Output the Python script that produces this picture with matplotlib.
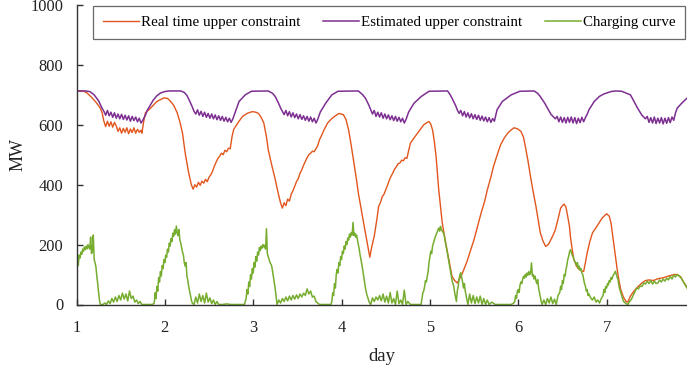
"""
Upper constraints and charging curve over one week
"""

import numpy as np
import matplotlib
matplotlib.use('Agg')
import matplotlib.pyplot as plt

# ---- data (day, MW) ----
est_day = [1.00, 1.10, 1.15, 1.20, 1.25, 1.29, 1.31,
           1.33, 1.35, 1.37, 1.39, 1.41, 1.43, 1.45, 1.47, 1.49, 1.51, 1.53, 1.55, 1.57, 1.59,
           1.61, 1.63, 1.65, 1.67, 1.69, 1.71, 1.73, 1.75,
           1.78, 1.80, 1.84, 1.87, 1.91, 1.95, 2.00, 2.05, 2.18, 2.22, 2.25, 2.28, 2.31, 2.33,
           2.35, 2.37, 2.39, 2.41, 2.43, 2.45, 2.47, 2.49, 2.51, 2.53, 2.55, 2.57, 2.59, 2.61,
           2.63, 2.65, 2.67, 2.69, 2.71, 2.73, 2.75, 2.77,
           2.80, 2.84, 2.91, 2.98, 3.17, 3.22, 3.25, 3.29, 3.31, 3.33,
           3.35, 3.37, 3.39, 3.41, 3.43, 3.45, 3.47, 3.49, 3.51, 3.53, 3.55, 3.57, 3.59, 3.61,
           3.63, 3.65, 3.67, 3.69, 3.71, 3.73,
           3.76, 3.82, 3.89, 3.96, 4.19, 4.24, 4.27, 4.31, 4.33,
           4.35, 4.37, 4.39, 4.41, 4.43, 4.45, 4.47, 4.49, 4.51, 4.53, 4.55, 4.57, 4.59, 4.61,
           4.63, 4.65, 4.67, 4.69, 4.71, 4.73,
           4.76, 4.82, 4.90, 4.99, 5.20, 5.23, 5.25, 5.29, 5.31,
           5.33, 5.35, 5.37, 5.39, 5.41, 5.43, 5.45, 5.47, 5.49, 5.51, 5.53, 5.55, 5.57, 5.59,
           5.61, 5.63, 5.65, 5.67, 5.69, 5.71, 5.73,
           5.76, 5.82, 5.92, 6.02, 6.18, 6.22, 6.25, 6.30, 6.33, 6.37, 6.42,
           6.44, 6.46, 6.48, 6.50, 6.52, 6.54, 6.56, 6.58, 6.60, 6.62, 6.64, 6.66, 6.68, 6.70,
           6.72, 6.74, 6.76,
           6.78, 6.80, 6.86, 6.92, 6.97, 7.05, 7.10, 7.17, 7.22, 7.27, 7.31, 7.35, 7.40, 7.44,
           7.46, 7.48, 7.50, 7.52, 7.54, 7.56, 7.58, 7.60, 7.62, 7.64, 7.66, 7.68, 7.70, 7.72,
           7.74, 7.76,
           7.78, 7.80, 7.85, 7.91, 7.93]
est_mw = [713, 713, 711, 700, 680, 655, 645,
          632, 648, 630, 642, 625, 640, 622, 636, 620, 635, 618, 632, 616, 630,
          612, 628, 614, 626, 610, 622, 606, 615,
          632, 648, 668, 683, 697, 706, 711, 713, 713, 708, 698, 680, 660, 645,
          636, 650, 632, 645, 628, 642, 625, 638, 622, 636, 620, 633, 617, 630,
          615, 628, 612, 625, 610, 622, 608, 620,
          645, 678, 700, 712, 713, 705, 694, 670, 656, 645,
          634, 648, 630, 644, 626, 640, 624, 636, 620, 634, 618, 630, 615, 628,
          612, 626, 610, 622, 606, 618,
          643, 672, 700, 712, 713, 700, 689, 665, 650,
          636, 648, 628, 642, 626, 640, 622, 636, 620, 633, 617, 630, 614, 628,
          612, 625, 610, 622, 606, 618,
          643, 672, 694, 712, 713, 700, 689, 665, 650,
          638, 648, 630, 644, 626, 640, 623, 637, 620, 634, 618, 632, 615, 629,
          613, 626, 610, 624, 608, 621, 612,
          650, 678, 700, 712, 713, 705, 694, 672, 656, 635, 620,
          628, 610, 626, 608, 624, 606, 625, 608, 626, 606, 624, 604, 622, 607,
          625, 610, 624,
          635, 650, 678, 695, 703, 711, 713, 712, 706, 700, 678, 656, 632, 620,
          628, 608, 624, 606, 626, 604, 622, 606, 624, 603, 622, 605, 624, 607,
          626, 615,
          640, 656, 672, 689, 692]

real_day = [1.00, 1.08, 1.12, 1.17, 1.23, 1.27, 1.29, 1.31, 1.33,
            1.35, 1.37, 1.39, 1.41, 1.43, 1.45, 1.47, 1.49, 1.51, 1.53, 1.55, 1.57, 1.59,
            1.61, 1.63, 1.65, 1.67, 1.69, 1.71, 1.73, 1.74,
            1.76, 1.78, 1.84, 1.91, 1.99, 2.03, 2.06, 2.10, 2.14, 2.17, 2.20, 2.23, 2.27,
            2.30, 2.32,
            2.34, 2.36, 2.38, 2.40, 2.42, 2.44, 2.46, 2.48, 2.50, 2.52, 2.54, 2.56, 2.58,
            2.60, 2.62, 2.64, 2.66, 2.68, 2.70, 2.72, 2.74,
            2.76, 2.78, 2.80, 2.84, 2.88, 2.93, 2.99, 3.03, 3.06, 3.09, 3.12, 3.15, 3.17,
            3.21, 3.25, 3.28, 3.31, 3.33,
            3.35, 3.37, 3.39, 3.41, 3.43, 3.45, 3.47, 3.49, 3.51, 3.53, 3.55, 3.57, 3.59,
            3.61, 3.63, 3.65, 3.67, 3.69, 3.71, 3.73, 3.75, 3.77,
            3.80, 3.84, 3.88, 3.92, 3.97, 4.02, 4.05, 4.08, 4.11, 4.14, 4.17, 4.19, 4.23,
            4.27, 4.30, 4.32,
            4.34, 4.37, 4.40, 4.42, 4.44, 4.46, 4.48, 4.50, 4.52, 4.54, 4.56, 4.58, 4.60,
            4.62, 4.64, 4.66, 4.68, 4.70, 4.72, 4.74, 4.76, 4.78,
            4.82, 4.86, 4.90, 4.93, 4.97, 4.99, 5.01, 5.03, 5.05, 5.07, 5.10, 5.14, 5.17,
            5.20, 5.23, 5.25, 5.28, 5.31, 5.34, 5.37, 5.42, 5.46, 5.50, 5.54, 5.58, 5.62,
            5.65, 5.69, 5.72, 5.76, 5.80, 5.84, 5.88, 5.92, 5.95, 5.99, 6.03, 6.06, 6.08,
            6.11, 6.14, 6.17, 6.20, 6.23, 6.25, 6.28, 6.31, 6.34, 6.37, 6.40, 6.42, 6.45,
            6.48, 6.50, 6.52, 6.54, 6.56, 6.58, 6.59, 6.61, 6.63, 6.66, 6.69, 6.72, 6.74,
            6.76, 6.78, 6.81, 6.84, 6.89, 6.95, 7.00, 7.03, 7.05, 7.08, 7.10, 7.12, 7.14,
            7.16, 7.19, 7.22, 7.24, 7.27, 7.31, 7.35, 7.40, 7.44, 7.48, 7.53, 7.58, 7.65,
            7.70, 7.76, 7.80, 7.84, 7.87, 7.91]
real_mw = [713, 712, 706, 692, 672, 655, 640, 612, 594,
           612, 595, 610, 592, 608, 596, 578, 590, 572, 588, 575, 590, 570,
           586, 574, 590, 572, 585, 575, 582, 572,
           610, 640, 656, 678, 690, 688, 680, 665, 640, 610, 572, 506, 439,
           400, 385,
           400, 392, 408, 398, 412, 405, 418, 410, 425, 433, 445, 462, 475,
           488, 495, 505, 500, 515, 510, 522, 520,
           560, 585, 594, 612, 628, 638, 644, 642, 638, 625, 606, 560, 517,
           465, 417, 375, 339, 322,
           340, 330, 352, 345, 368, 380, 395, 410, 420, 438, 450, 465, 478,
           490, 500, 505, 512, 510, 520, 530, 550, 562,
           582, 605, 618, 628, 638, 634, 618, 583, 530, 472, 415, 372, 305,
           239, 190, 158,
           190, 228, 285, 328, 340, 360, 368, 383, 398, 415, 428, 439, 452,
           460, 470, 472, 482, 480, 490, 488, 515, 539,
           556, 572, 588, 600, 608, 611, 602, 583, 545, 494, 383, 272, 220,
           172, 125, 94, 80, 72, 88, 106, 144, 180, 217, 262, 306, 345,
           383, 425, 461, 498, 533, 555, 572, 583, 590, 587, 578, 558, 528,
           480, 425, 375, 328, 275, 239, 212, 194, 200, 217, 235, 250, 285,
           322, 330, 335, 325, 294, 260, 228, 185, 150, 128, 117, 112, 110,
           140, 172, 210, 239, 261, 289, 303, 295, 272, 206, 160, 117, 80,
           50, 25, 10, 8, 28, 45, 58, 72, 80, 82, 80, 86, 90,
           95, 100, 100, 92, 75, 58]

chg_day = [1.00, 1.01, 1.02, 1.03, 1.04, 1.05, 1.06, 1.07, 1.08, 1.09, 1.10, 1.11, 1.12, 1.13,
           1.14, 1.15, 1.16, 1.17, 1.18, 1.19, 1.20, 1.21, 1.22, 1.23, 1.24, 1.25, 1.26, 1.27,
           1.30, 1.32, 1.34, 1.36, 1.38, 1.40, 1.42, 1.44, 1.46, 1.48, 1.50, 1.52, 1.54, 1.56,
           1.58, 1.60, 1.62, 1.64, 1.66, 1.68, 1.70, 1.72, 1.74, 1.78, 1.82, 1.86,
           1.88, 1.89, 1.90, 1.91, 1.92, 1.93, 1.94, 1.95, 1.96, 1.97, 1.98, 1.99, 2.00, 2.01,
           2.02, 2.03, 2.04, 2.05, 2.06, 2.07, 2.08, 2.09, 2.10, 2.11, 2.12, 2.13, 2.14, 2.15,
           2.16, 2.17, 2.18, 2.19, 2.20, 2.21, 2.22, 2.23, 2.24, 2.25, 2.26, 2.27, 2.28, 2.29,
           2.30, 2.31,
           2.33, 2.35, 2.37, 2.39, 2.41, 2.43, 2.45, 2.47, 2.49, 2.51, 2.53, 2.55, 2.57, 2.59,
           2.61, 2.65, 2.70, 2.75, 2.80, 2.85, 2.90,
           2.92, 2.93, 2.94, 2.95, 2.96, 2.97, 2.98, 2.99, 3.00, 3.01, 3.02, 3.03, 3.04, 3.05,
           3.06, 3.07, 3.08, 3.09, 3.10, 3.11, 3.12, 3.13, 3.14, 3.15, 3.16, 3.17, 3.18, 3.19,
           3.20, 3.21, 3.22, 3.23, 3.24, 3.25, 3.26, 3.27,
           3.29, 3.31, 3.33, 3.35, 3.37, 3.39, 3.41, 3.43, 3.45, 3.47, 3.49, 3.51, 3.53, 3.55,
           3.57, 3.59, 3.61, 3.63, 3.65, 3.67, 3.69, 3.71, 3.73, 3.75, 3.80, 3.85, 3.88,
           3.89, 3.90, 3.91, 3.92, 3.93, 3.94, 3.95, 3.96, 3.97, 3.98, 3.99, 4.00, 4.01, 4.02,
           4.03, 4.04, 4.05, 4.06, 4.07, 4.08, 4.09, 4.10, 4.11, 4.12, 4.13, 4.14, 4.15, 4.16,
           4.17, 4.18, 4.19, 4.20, 4.21, 4.22, 4.23, 4.24, 4.25, 4.26, 4.27, 4.28, 4.29, 4.30,
           4.31, 4.32, 4.33,
           4.35, 4.37, 4.39, 4.41, 4.43, 4.45, 4.47, 4.49, 4.51, 4.53, 4.55, 4.57, 4.59, 4.61,
           4.63, 4.65, 4.67, 4.69, 4.71, 4.73, 4.75, 4.78, 4.84, 4.90,
           4.91, 4.92, 4.93, 4.94, 4.95, 4.96, 4.97, 4.98, 4.99, 5.00, 5.01, 5.02, 5.03, 5.04,
           5.05, 5.06, 5.07, 5.08, 5.09, 5.10, 5.11, 5.12, 5.13, 5.14, 5.15, 5.16, 5.17, 5.18,
           5.19, 5.20, 5.21, 5.22, 5.23, 5.24, 5.25, 5.26, 5.27, 5.28, 5.29, 5.30, 5.31, 5.32,
           5.33, 5.34, 5.35, 5.36, 5.37, 5.38, 5.39, 5.40, 5.41, 5.42, 5.43,
           5.45, 5.47, 5.49, 5.51, 5.53, 5.55, 5.57, 5.59, 5.61, 5.63, 5.65, 5.67, 5.70, 5.74,
           5.80, 5.86, 5.92, 5.95,
           5.96, 5.97, 5.98, 5.99, 6.00, 6.01, 6.02, 6.03, 6.04, 6.05, 6.06, 6.07, 6.08, 6.09,
           6.10, 6.11, 6.12, 6.13, 6.14, 6.15, 6.16, 6.17, 6.18, 6.19, 6.20, 6.21, 6.22, 6.23,
           6.24, 6.25, 6.26, 6.27,
           6.29, 6.31, 6.33, 6.35, 6.37, 6.39, 6.41, 6.43, 6.45, 6.47,
           6.48, 6.49, 6.50, 6.51, 6.52, 6.53, 6.54, 6.55, 6.56, 6.57, 6.58, 6.59, 6.60, 6.61,
           6.62, 6.63, 6.64, 6.65, 6.66, 6.67, 6.68, 6.69, 6.70, 6.71, 6.72, 6.73, 6.74, 6.75,
           6.76, 6.77, 6.78, 6.79, 6.80, 6.82, 6.84, 6.86, 6.88, 6.90, 6.92, 6.94, 6.96,
           6.97, 6.98, 6.99, 7.00, 7.01, 7.02, 7.03, 7.04, 7.05, 7.06, 7.07, 7.08, 7.09, 7.10,
           7.11, 7.12, 7.13, 7.14, 7.15, 7.16, 7.17, 7.18, 7.19, 7.20, 7.22, 7.24,
           7.26, 7.28, 7.30, 7.32, 7.34, 7.36, 7.38, 7.40, 7.42, 7.44, 7.46, 7.48, 7.50, 7.52,
           7.54, 7.56, 7.58, 7.60, 7.62, 7.64, 7.66, 7.68, 7.70, 7.72, 7.74, 7.76, 7.78, 7.80,
           7.82, 7.84, 7.86, 7.88, 7.90, 7.92]
chg_mw = [110, 150, 130, 165, 155, 175, 168, 185, 178, 192, 183, 195, 186, 200,
          190, 185, 225, 170, 180, 232, 150, 140, 125, 95, 70, 40, 15, 0,
          0, 5, 0, 12, 3, 20, 8, 25, 10, 30, 15, 38, 18, 35,
          12, 45, 20, 28, 8, 15, 3, 10, 0, 0, 0, 0,
          5, 39, 20, 60, 45, 90, 75, 110, 95, 130, 120, 150, 140, 165,
          158, 185, 175, 205, 195, 220, 210, 238, 228, 250, 235, 262, 240, 230,
          250, 215, 205, 190, 175, 165, 140, 128, 140, 95, 80, 60, 45, 30,
          15, 5,
          0, 25, 5, 35, 10, 30, 5, 38, 8, 22, 3, 15, 0, 10,
          0, 0, 2, 0, 0, 0, 0,
          20, 50, 35, 75, 60, 100, 85, 120, 105, 140, 125, 160, 145, 175,
          165, 190, 180, 195, 188, 200, 192, 198, 185, 253, 170, 160, 150, 140,
          135, 128, 110, 90, 70, 50, 25, 0,
          15, 5, 20, 10, 25, 12, 28, 15, 30, 18, 32, 20, 35, 25,
          38, 30, 52, 35, 45, 25, 28, 10, 5, 0, 0, 0, 0,
          10, 39, 30, 70, 55, 100, 117, 105, 140, 130, 160, 150, 178, 170,
          195, 185, 210, 200, 222, 215, 235, 225, 240, 232, 274, 230, 238, 225,
          232, 215, 200, 185, 165, 150, 133, 115, 95, 75, 56, 40, 30, 20,
          10, 5, 0,
          22, 10, 25, 15, 30, 12, 35, 8, 28, 5, 40, 5, 20, 0,
          45, 3, 15, 0, 48, 0, 10, 0, 0, 0,
          20, 39, 45, 60, 80, 75, 94, 110, 140, 160, 178, 170, 195, 205,
          215, 225, 233, 240, 248, 255, 245, 261, 250, 245, 240, 235, 215, 200,
          185, 168, 150, 135, 115, 100, 82, 70, 61, 40, 25, 10, 45, 60,
          85, 100, 106, 90, 75, 55, 70, 45, 30, 15, 0,
          35, 5, 30, 3, 25, 5, 28, 0, 20, 0, 15, 0, 8, 0,
          0, 0, 0, 5,
          10, 30, 20, 45, 50, 40, 65, 75, 70, 85, 94, 88, 100, 92,
          105, 98, 110, 100, 106, 139, 95, 100, 85, 95, 80, 70, 83, 55,
          40, 25, 10, 0,
          15, 0, 20, 5, 25, 3, 18, 0, 30, 40,
          61, 50, 80, 70, 100, 95, 117, 130, 150, 160, 175, 183, 175, 165,
          160, 150, 144, 139, 130, 140, 120, 128, 115, 120, 105, 100, 85, 70,
          61, 45, 50, 30, 35, 22, 15, 25, 8, 15, 5, 20, 30,
          50, 40, 60, 55, 70, 65, 80, 75, 90, 85, 94, 100, 105, 111,
          100, 90, 83, 61, 50, 40, 30, 20, 11, 8, 3, 0,
          10, 17, 30, 42, 55, 52, 62, 60, 72, 68, 78, 70, 80, 68,
          78, 70, 72, 82, 75, 85, 78, 88, 82, 94, 85, 98, 92, 100,
          95, 90, 80, 70, 60, 50]

x_ticks = [1, 2, 3, 4, 5, 6, 7]
y_ticks = [0, 200, 400, 600, 800, 1000]

# ---- style ----
real_color = '#e2561d'
est_color = '#7d2f91'
chg_color = '#76ad2f'
axis_color = '#333333'
text_color = '#222222'

plt.rcParams['font.family'] = ['Liberation Serif', 'DejaVu Serif']

fig = plt.figure(figsize=(6.87, 3.73), dpi=100)
ax = fig.add_axes([76.5 / 687, 68.5 / 373, 610.5 / 687, 299.5 / 373])

ax.plot(real_day, real_mw, color=real_color, linewidth=1.0, label='Real time upper constraint')
ax.plot(est_day, est_mw, color=est_color, linewidth=1.1, label='Estimated upper constraint')
ax.plot(chg_day, chg_mw, color=chg_color, linewidth=1.1, label='Charging curve')

ax.set_xlim(1, 7.91)
ax.set_ylim(0, 1000)
ax.set_xticks(x_ticks)
ax.set_yticks(y_ticks)
ax.tick_params(axis='both', direction='in', length=4, width=1, colors=axis_color,
               labelsize=11.8, labelcolor=text_color)
ax.tick_params(axis='x', pad=11)
ax.tick_params(axis='y', pad=9.5)
ax.set_xlabel('day', fontsize=13.5, color=text_color, labelpad=9)
ax.set_ylabel('MW', fontsize=13, color=text_color, labelpad=3)

for side in ('top', 'right'):
    ax.spines[side].set_visible(False)
for side in ('left', 'bottom'):
    ax.spines[side].set_color(axis_color)
    ax.spines[side].set_linewidth(1.0)

leg = ax.legend(loc='upper right', bbox_to_anchor=(0.9975, 0.997), ncol=3, fontsize=10.8,
                frameon=True, fancybox=False, handlelength=2.4, handletextpad=0.15,
                columnspacing=1.5, borderpad=0.65, borderaxespad=0)
leg.get_frame().set_edgecolor('#444444')
leg.get_frame().set_linewidth(0.9)

fig.savefig('out.png', dpi=100)
plt.close(fig)
